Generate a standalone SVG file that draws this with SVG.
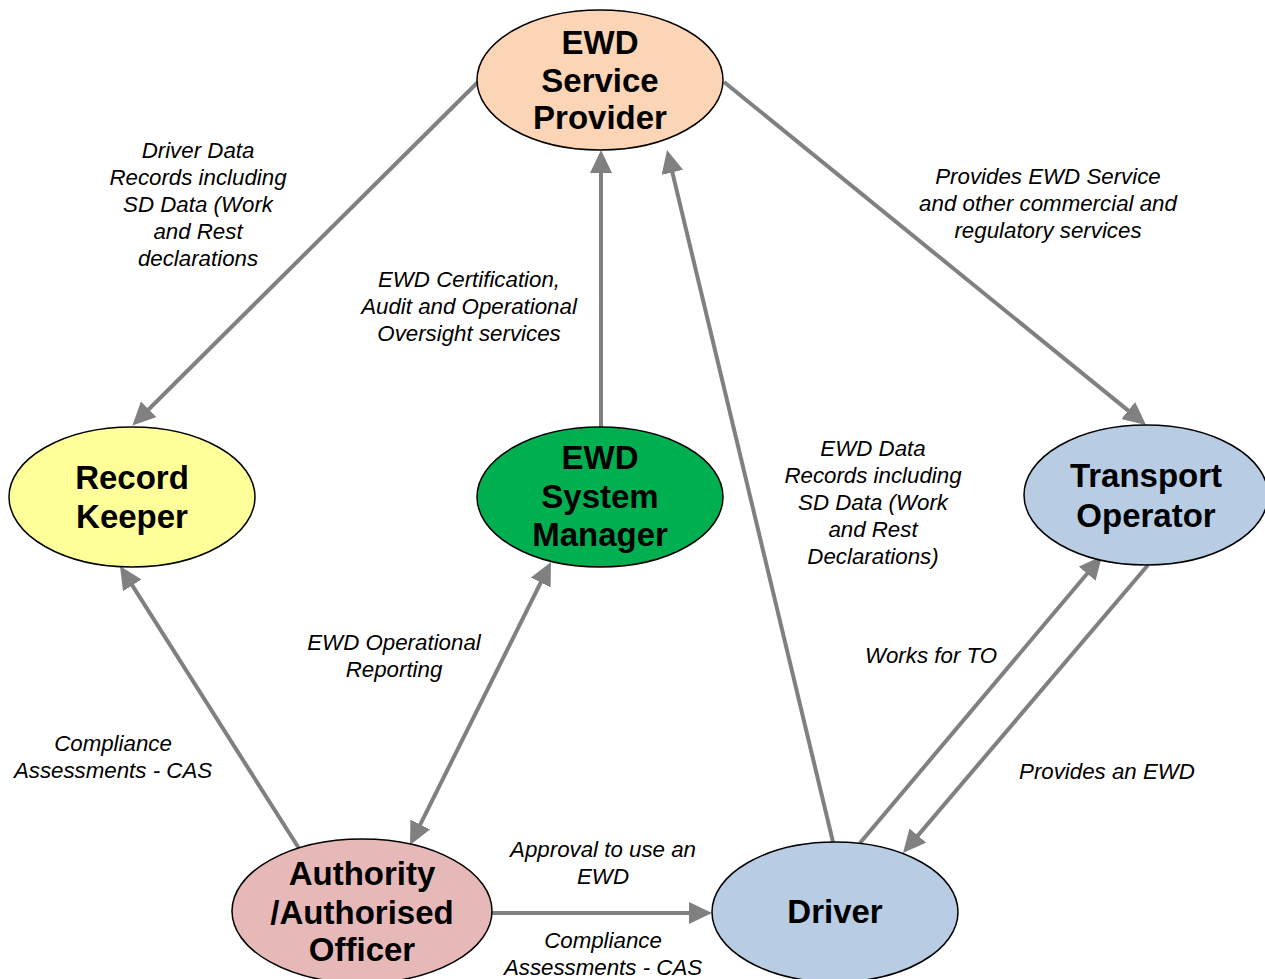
<svg xmlns="http://www.w3.org/2000/svg" width="1265" height="979" viewBox="0 0 1265 979">
<style>
.node{stroke:#000;stroke-width:1.5}
.nt{font-family:"Liberation Sans",Arial,sans-serif;font-weight:bold;font-size:33px;text-anchor:middle;fill:#000}
.lb{font-family:"Liberation Sans",Arial,sans-serif;font-style:italic;font-size:22.3px;text-anchor:middle;fill:#000}
.c{stroke:#808080;stroke-width:4;fill:none;marker-end:url(#ah)}
</style>
<defs>
<marker id="ah" markerUnits="userSpaceOnUse" markerWidth="26" markerHeight="24" refX="8" refY="11" orient="auto-start-reverse" viewBox="0 0 26 24">
<path d="M0,0 L23,11 L0,22 Z" fill="#808080"/>
</marker>
</defs>
<rect width="1265" height="979" fill="#fff"/>
<g id="connectors">
<line class="c" x1="478" y1="82" x2="143" y2="415"/>
<line class="c" x1="601" y1="427" x2="601" y2="165"/>
<line class="c" x1="833" y1="842" x2="670.5" y2="164.6"/>
<line class="c" x1="724" y1="82" x2="1134.4" y2="415.6"/>
<line class="c" x1="300" y1="850" x2="128" y2="578.6"/>
<line class="c" x1="416.7" y1="831.6" x2="544.3" y2="575.4" style="marker-start:url(#ah)"/>
<line class="c" x1="492" y1="913" x2="697" y2="913"/>
<line class="c" x1="860" y1="843" x2="1092.3" y2="567.5"/>
<line class="c" x1="1148" y1="565" x2="912.7" y2="841.6"/>
</g>
<g id="esp">
<ellipse class="node" cx="600" cy="80" rx="123" ry="70" fill="#FBD5B5"/>
<text class="nt" x="600" y="54">EWD</text>
<text class="nt" x="600" y="92">Service</text>
<text class="nt" x="600" y="129">Provider</text>
</g>
<g id="rk">
<ellipse class="node" cx="132" cy="497" rx="123" ry="70" fill="#FFFF99"/>
<text class="nt" x="132" y="489">Record</text>
<text class="nt" x="132" y="528">Keeper</text>
</g>
<g id="esm">
<ellipse class="node" cx="600" cy="497" rx="123" ry="70" fill="#00B050"/>
<text class="nt" x="600" y="469">EWD</text>
<text class="nt" x="600" y="508">System</text>
<text class="nt" x="600" y="546">Manager</text>
</g>
<g id="to">
<ellipse class="node" cx="1146" cy="495" rx="122" ry="70" fill="#B8CCE4"/>
<text class="nt" x="1146" y="487">Transport</text>
<text class="nt" x="1146" y="527">Operator</text>
</g>
<g id="auth">
<ellipse class="node" cx="362" cy="911" rx="130" ry="72" fill="#E6B9B8"/>
<text class="nt" x="362" y="885">Authority</text>
<text class="nt" x="362" y="924">/Authorised</text>
<text class="nt" x="362" y="961">Officer</text>
</g>
<g id="driver">
<ellipse class="node" cx="835" cy="912" rx="123" ry="70" fill="#B8CCE4"/>
<text class="nt" x="835" y="923">Driver</text>
</g>
<g id="labels">
<text class="lb" x="198" y="158">Driver Data</text>
<text class="lb" x="198" y="185">Records including</text>
<text class="lb" x="198" y="212">SD Data (Work</text>
<text class="lb" x="198" y="239">and Rest</text>
<text class="lb" x="198" y="266">declarations</text>
<text class="lb" x="469" y="287">EWD Certification,</text>
<text class="lb" x="469" y="314">Audit and Operational</text>
<text class="lb" x="469" y="341">Oversight services</text>
<text class="lb" x="1048" y="184">Provides EWD Service</text>
<text class="lb" x="1048" y="211">and other commercial and</text>
<text class="lb" x="1048" y="238">regulatory services</text>
<text class="lb" x="873" y="456">EWD Data</text>
<text class="lb" x="873" y="483">Records including</text>
<text class="lb" x="873" y="510">SD Data (Work</text>
<text class="lb" x="873" y="537">and Rest</text>
<text class="lb" x="873" y="564">Declarations)</text>
<text class="lb" x="394" y="650">EWD Operational</text>
<text class="lb" x="394" y="677">Reporting</text>
<text class="lb" x="931" y="663">Works for TO</text>
<text class="lb" x="113" y="751">Compliance</text>
<text class="lb" x="113" y="778">Assessments - CAS</text>
<text class="lb" x="1107" y="779">Provides an EWD</text>
<text class="lb" x="603" y="857">Approval to use an</text>
<text class="lb" x="603" y="884">EWD</text>
<text class="lb" x="603" y="948">Compliance</text>
<text class="lb" x="603" y="975">Assessments - CAS</text>
</g>
</svg>
